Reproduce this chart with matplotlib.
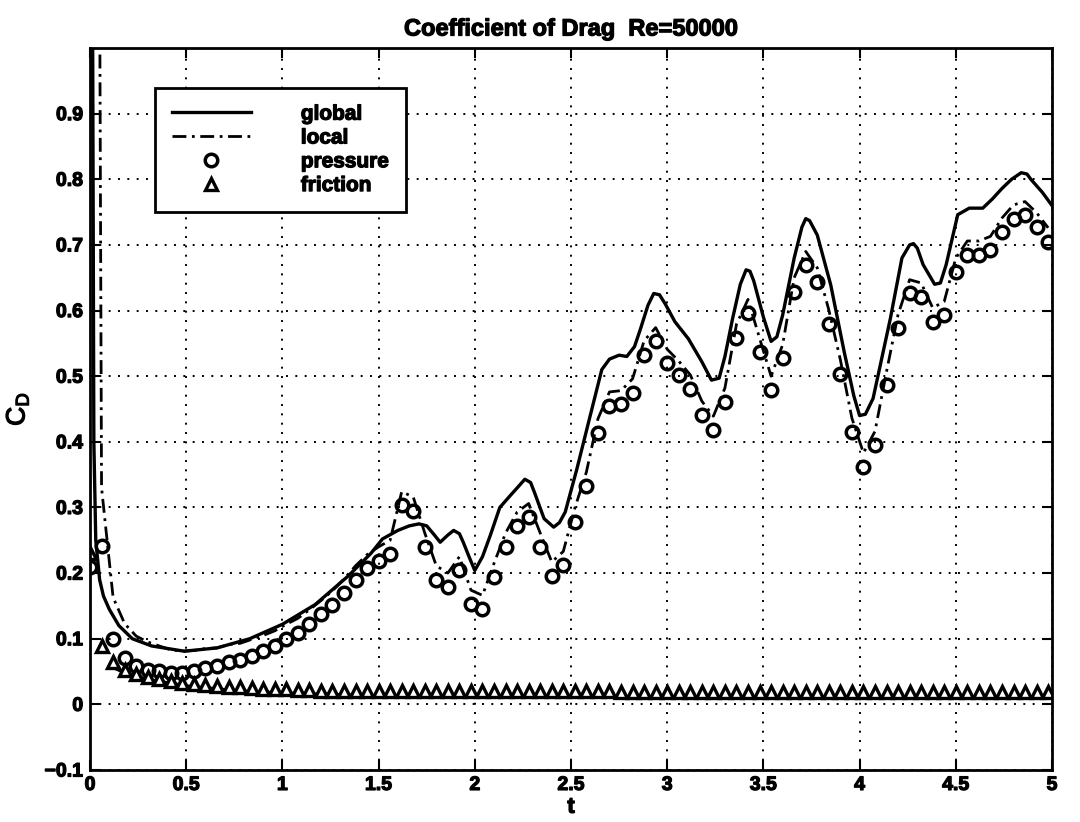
import matplotlib
matplotlib.use('Agg')
import matplotlib.pyplot as plt
import matplotlib.patheffects as pe
import numpy as np

plt.rcParams['font.family'] = ['Liberation Sans', 'DejaVu Sans']
plt.rcParams['font.weight'] = 'bold'
plt.rcParams['mathtext.fontset'] = 'custom'
plt.rcParams['mathtext.rm'] = 'Liberation Sans:bold'
plt.rcParams['mathtext.it'] = 'Liberation Sans:bold'
plt.rcParams['mathtext.bf'] = 'Liberation Sans:bold'

# sampling times of the surface-integrated coefficients
t_samp = np.arange(84) * 0.06

pressure = [0.210, 0.241, 0.099, 0.071, 0.058, 0.053, 0.051, 0.048, 0.048, 0.051,
            0.056, 0.058, 0.064, 0.067, 0.074, 0.081, 0.089, 0.099, 0.109, 0.122,
            0.137, 0.152, 0.170, 0.190, 0.207, 0.219, 0.229, 0.303, 0.295, 0.240,
            0.190, 0.179, 0.204, 0.153, 0.146, 0.194, 0.240, 0.272, 0.285, 0.240,
            0.196, 0.212, 0.278, 0.333, 0.414, 0.455, 0.457, 0.475, 0.533, 0.553,
            0.520, 0.502, 0.481, 0.441, 0.418, 0.461, 0.558, 0.596, 0.537, 0.479,
            0.527, 0.629, 0.669, 0.644, 0.580, 0.504, 0.415, 0.362, 0.395, 0.486,
            0.573, 0.626, 0.621, 0.583, 0.593, 0.659, 0.685, 0.685, 0.692, 0.720,
            0.740, 0.745, 0.728, 0.705]

friction = [0.230, 0.089, 0.064, 0.052, 0.046, 0.042, 0.038, 0.035, 0.033, 0.031,
            0.029, 0.028, 0.027, 0.026, 0.025, 0.024, 0.023, 0.023, 0.022, 0.022,
            0.021, 0.021, 0.021, 0.021, 0.021, 0.020, 0.020, 0.020, 0.020, 0.020,
            0.020, 0.020, 0.020, 0.020, 0.020, 0.020, 0.020, 0.020, 0.020, 0.020,
            0.020, 0.020, 0.020, 0.020, 0.020, 0.020, 0.019, 0.019, 0.019, 0.019,
            0.019, 0.019, 0.019, 0.019, 0.019, 0.019, 0.019, 0.019, 0.019, 0.019,
            0.019, 0.019, 0.019, 0.019, 0.019, 0.019, 0.019, 0.019, 0.019, 0.019,
            0.019, 0.019, 0.019, 0.019, 0.019, 0.019, 0.019, 0.019, 0.019, 0.019,
            0.019, 0.019, 0.019, 0.019]

local = [5.000, 0.330, 0.163, 0.123, 0.104, 0.095, 0.089, 0.083, 0.081, 0.082,
         0.085, 0.086, 0.091, 0.093, 0.099, 0.105, 0.112, 0.122, 0.131, 0.144,
         0.158, 0.173, 0.191, 0.211, 0.228, 0.240, 0.250, 0.324, 0.316, 0.261,
         0.211, 0.200, 0.225, 0.174, 0.166, 0.215, 0.261, 0.293, 0.306, 0.261,
         0.217, 0.233, 0.299, 0.354, 0.435, 0.476, 0.478, 0.496, 0.554, 0.574,
         0.541, 0.523, 0.502, 0.462, 0.439, 0.482, 0.579, 0.617, 0.558, 0.500,
         0.548, 0.650, 0.690, 0.665, 0.601, 0.525, 0.436, 0.383, 0.416, 0.507,
         0.594, 0.647, 0.642, 0.604, 0.614, 0.680, 0.706, 0.706, 0.713, 0.741,
         0.761, 0.766, 0.749, 0.726]

# global (momentum balance) drag, finer time resolution
t_glob = [0.0, 0.01, 0.02, 0.03, 0.05, 0.07, 0.10, 0.15, 0.22, 0.32, 0.49, 0.66,
          0.83, 1.00, 1.17, 1.34, 1.46, 1.52, 1.60, 1.66, 1.71, 1.75, 1.79, 1.82,
          1.86, 1.89, 1.92, 1.94, 1.97, 2.00, 2.04, 2.08, 2.13, 2.19, 2.23, 2.26,
          2.29, 2.31, 2.36, 2.41, 2.44, 2.47, 2.53, 2.60, 2.66, 2.70, 2.75, 2.79,
          2.83, 2.86, 2.90, 2.93, 2.96, 2.99, 3.04, 3.11, 3.18, 3.23, 3.27, 3.30,
          3.34, 3.38, 3.41, 3.43, 3.45, 3.50, 3.54, 3.57, 3.60, 3.66, 3.70, 3.72,
          3.74, 3.78, 3.85, 3.92, 3.97, 4.00, 4.03, 4.07, 4.16, 4.22, 4.26, 4.28,
          4.30, 4.33, 4.39, 4.42, 4.45, 4.51, 4.57, 4.64, 4.69, 4.74, 4.79, 4.84,
          4.87, 4.89, 4.95, 5.00]
cd_glob = [6.0, 1.40, 0.40, 0.25, 0.19, 0.165, 0.145, 0.120, 0.100, 0.089, 0.081, 0.086,
           0.100, 0.122, 0.152, 0.195, 0.230, 0.252, 0.265, 0.272, 0.275, 0.272, 0.258, 0.247,
           0.258, 0.265, 0.260, 0.247, 0.225, 0.204, 0.225, 0.257, 0.300, 0.320, 0.333, 0.343,
           0.338, 0.323, 0.283, 0.270, 0.277, 0.293, 0.358, 0.440, 0.510, 0.526, 0.532, 0.530,
           0.545, 0.571, 0.608, 0.626, 0.624, 0.610, 0.583, 0.557, 0.522, 0.494, 0.497, 0.530,
           0.588, 0.640, 0.662, 0.660, 0.645, 0.590, 0.553, 0.560, 0.593, 0.680, 0.727, 0.740,
           0.737, 0.715, 0.639, 0.537, 0.470, 0.440, 0.442, 0.466, 0.588, 0.680, 0.700, 0.702,
           0.695, 0.670, 0.640, 0.642, 0.670, 0.746, 0.756, 0.756, 0.770, 0.786, 0.800, 0.810,
           0.808, 0.800, 0.780, 0.760]

# skin friction trace along the wall
t_wall = [0.12, 0.20, 0.30, 0.50, 0.75, 1.00, 1.50, 2.00, 3.00, 4.00, 5.00]
cd_wall = [0.056, 0.046, 0.038, 0.028, 0.021, 0.017, 0.013, 0.012, 0.011, 0.010, 0.010]

heavy = [pe.withStroke(linewidth=0.9, foreground='black')]

fig = plt.figure(figsize=(10.8, 8.22), dpi=100)
ax = fig.add_axes([90 / 1080, 1 - 770 / 822, 962 / 1080, 722 / 822])

ax.plot(t_glob, cd_glob, '-', color='black', lw=2.4, label='global')
ax.plot(t_samp, local, color='black', lw=2.0, ls=(0, (5, 2, 1, 2)), label='local')
ax.plot(t_samp, pressure, 'o', color='black', mfc='none', mew=2.5, ms=9, label='pressure')
ax.plot(t_samp, friction, '^', color='black', mfc='white', mew=2.4, ms=8.5, label='friction')
ax.plot(t_wall, cd_wall, '-', color='black', lw=2.4, zorder=1.9)

ax.set_xlim(0, 5)
ax.set_ylim(-0.1, 1.0)
ax.set_xticks(np.arange(0, 5.01, 0.5))
ax.set_xticklabels(['0', '0.5', '1', '1.5', '2', '2.5', '3', '3.5', '4', '4.5', '5'])
ax.set_yticks(np.arange(-0.1, 0.91, 0.1))
ax.set_yticklabels(['\u22120.1', '0', '0.1', '0.2', '0.3', '0.4', '0.5', '0.6', '0.7', '0.8', '0.9'])
ax.tick_params(direction='in', length=7, width=1.5, top=True, right=True,
               labelsize=14, pad=5)
for lab in ax.get_xticklabels() + ax.get_yticklabels():
    lab.set_path_effects(heavy)
ax.grid(True, color='black', ls=(0, (1, 3.8)), lw=1.4)
for s in ax.spines.values():
    s.set_linewidth(2)

ax.set_title('Coefficient of Drag  Re=50000', fontsize=17, fontweight='bold', pad=9,
             path_effects=heavy)
ax.set_xlabel('t', fontsize=16, fontweight='bold', labelpad=2, path_effects=heavy)
ax.set_ylabel(r'$\mathregular{C_D}$', fontsize=19, labelpad=10, path_effects=heavy)

leg = ax.legend(loc='upper left', bbox_to_anchor=((155 - 90) / 962, (770 - 88) / 722),
                borderaxespad=0, fancybox=False, edgecolor='black', framealpha=1,
                fontsize=15, handlelength=3.8, handletextpad=2.4, labelspacing=0.23,
                borderpad=0.8, numpoints=1)
leg.get_frame().set_linewidth(2)
for txt in leg.get_texts():
    txt.set_path_effects(heavy)

fig.savefig('out.png', dpi=100, facecolor='white')
